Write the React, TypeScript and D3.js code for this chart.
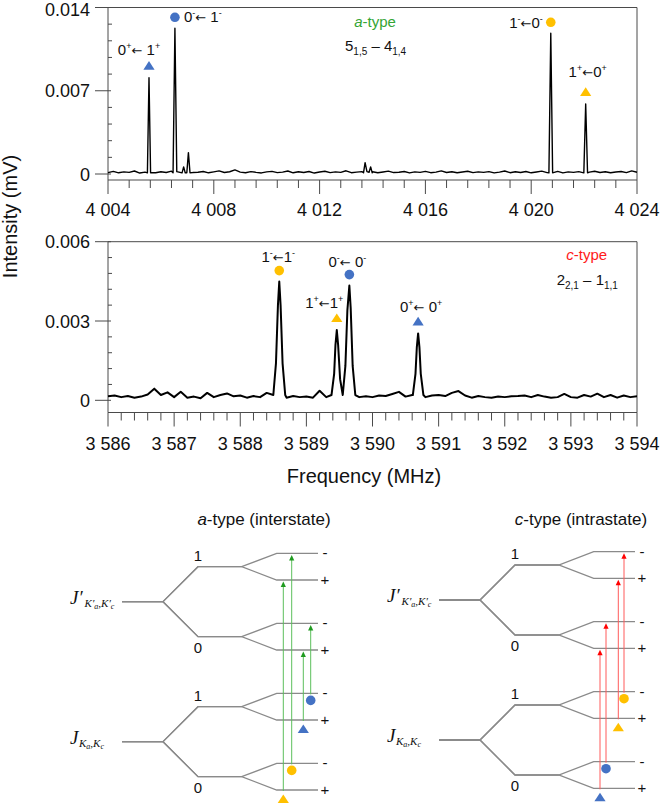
import React from "react";
import * as d3 from "d3";

// ---------------- DATA ----------------
// Top spectrum: a-type 5(1,5) - 4(1,4)
const topXTicks = [4004, 4008, 4012, 4016, 4020, 4024];
const topXMinorStep = 0.8;
const topYTicks = [0, 0.007, 0.014];
const topYMinorStep = 0.0014;
const topNoiseStart = 4004;
const topNoiseStep = 0.2;
const topNoise = [
  0.00012, 0.00022, 0.0001, 0.00018, 0.00014, 0.00025, 0.00008, 0.00016, 0.0002, 0.00011,
  0.00019, 0.00013, 0.00024, 0.00009, 0.00017, 0.00028, 0.00012, 0.00015, 0.00021, 0.0001,
  0.00018, 0.00026, 0.00013, 0.00019, 0.00034, 0.00016, 0.00011, 0.0002, 0.00014, 0.00009,
  0.00018, 0.00022, 0.00012, 0.00016, 0.00025, 0.0001, 0.00019, 0.00013, 0.00021, 0.00008,
  0.00017, 0.00023, 0.00012, 0.00018, 0.00014, 0.00027, 0.00011, 0.00016, 0.0002, 0.00013,
  0.00019, 0.0001, 0.00017, 0.00024, 0.00012, 0.00015, 0.00021, 0.00009, 0.00018, 0.00014,
  0.00022, 0.00011, 0.00016, 0.00026, 0.00013, 0.00019, 0.0001, 0.00017, 0.00023, 0.00012,
  0.00018, 0.00014, 0.0002, 0.00009, 0.00016, 0.00025, 0.00011, 0.00019, 0.00013, 0.00021,
  0.0001, 0.00017, 0.00024, 0.00012, 0.00015, 0.00022, 0.00009, 0.00018, 0.00014, 0.0002,
  0.00011, 0.00016, 0.00023, 0.00013, 0.00019, 0.0001, 0.00017, 0.00021, 0.00012, 0.00026,
  0.00015,
];
const topPeaks: number[][][] = [
  [[4005.49, 0.0001], [4005.55, 0.0081], [4005.61, 0.0001]],
  [[4006.46, 0.0001], [4006.53, 0.01225], [4006.6, 0.0002]],
  [[4006.8, 0.0001], [4006.86, 0.0006], [4006.92, 0.0001]],
  [[4006.98, 0.0001], [4007.04, 0.0018], [4007.1, 0.0001]],
  [[4013.66, 0.0001], [4013.72, 0.00095], [4013.79, 0.0002], [4013.87, 0.00015], [4013.93, 0.0006], [4013.99, 0.0001]],
  [[4020.67, 0.0001], [4020.74, 0.01183], [4020.81, 0.0001]],
  [[4021.99, 0.0001], [4022.06, 0.00589], [4022.13, 0.0001]],
];
const topLabels = [
  { freq: 4005.55, height: 0.0081, upper: "0", lower: "1", sign: "+", color: "blue", shape: "tri" },
  { freq: 4006.53, height: 0.01225, upper: "0", lower: "1", sign: "-", color: "blue", shape: "circle" },
  { freq: 4020.74, height: 0.01183, upper: "1", lower: "0", sign: "-", color: "orange", shape: "circle" },
  { freq: 4022.06, height: 0.00589, upper: "1", lower: "0", sign: "+", color: "orange", shape: "tri" },
];
const topType = { letter: "a", a: "5", aSub: "1,5", b: "4", bSub: "1,4" };

// Bottom spectrum: c-type 2(2,1) - 1(1,1)
const botXTicks = [3586, 3587, 3588, 3589, 3590, 3591, 3592, 3593, 3594];
const botXMinorStep = 0.2;
const botYTicks = [0, 0.003, 0.006];
const botYMinorStep = 0.0006;
const botNoiseStart = 3586;
const botNoiseStep = 0.1;
const botNoise = [
  0.00015, 0.00018, 0.00012, 0.00016, 0.0001, 0.00014, 0.00022, 0.00044, 0.0002, 0.0003,
  0.00012, 0.00032, 0.0001, 0.00014, 0.00008, 0.00028, 0.00012, 0.0002, 0.00026, 0.00015,
  0.00018, 0.0001, 0.00016, 0.00012, 0.00028, 0.0002, 0.00015, 0.0001, 0.00016, 0.00012,
  0.00014, 0.0001, 0.00036, 0.00012, 0.00015, 0.00015, 0.00015, 0.00015, 0.00012, 0.00015,
  0.00012, 0.00018, 0.00016, 0.00024, 0.00032, 0.00014, 0.0002, 0.00015, 0.00012, 0.00018,
  0.0002, 0.00016, 0.00028, 0.00035, 0.00018, 0.0001, 0.00016, 0.00012, 0.0001, 0.00014,
  0.00012, 0.00015, 0.00016, 0.00018, 0.00012, 0.0002, 0.00014, 0.0001, 0.00012, 0.00024,
  0.00012, 0.0001, 0.0002, 0.00014, 0.00025, 0.00012, 0.0002, 0.0001, 0.00018, 0.00012,
  0.00015,
];
const botPeaks: number[][][] = [
  [[3588.5, 0.0002], [3588.54, 0.0014], [3588.57, 0.0036], [3588.59, 0.00449], [3588.61, 0.0036], [3588.64, 0.0014], [3588.68, 0.0002]],
  [[3589.38, 0.0002], [3589.42, 0.001], [3589.44, 0.0021], [3589.46, 0.00266], [3589.48, 0.0021], [3589.51, 0.0008], [3589.55, 0.0002],
   [3589.59, 0.0013], [3589.62, 0.0034], [3589.65, 0.00434], [3589.67, 0.0035], [3589.7, 0.0013], [3589.74, 0.0002]],
  [[3590.61, 0.0002], [3590.65, 0.001], [3590.67, 0.002], [3590.69, 0.00253], [3590.71, 0.002], [3590.73, 0.001], [3590.77, 0.0002]],
];
const botLabels = [
  { freq: 3588.59, height: 0.00449, upper: "1", lower: "1", sign: "-", color: "orange", shape: "circle" },
  { freq: 3589.46, height: 0.00266, upper: "1", lower: "1", sign: "+", color: "orange", shape: "tri" },
  { freq: 3589.65, height: 0.00434, upper: "0", lower: "0", sign: "-", color: "blue", shape: "circle" },
  { freq: 3590.69, height: 0.00253, upper: "0", lower: "0", sign: "+", color: "blue", shape: "tri" },
];
const botType = { letter: "c", a: "2", aSub: "2,1", b: "1", bSub: "1,1" };

// Energy level diagrams
const jLevels = ["1", "0"];
const parities = ["-", "+"];
const aTransitions = [
  { lowerJ: "0", lowerP: "+", upperJ: "1", upperP: "+", color: "orange", shape: "tri" },
  { lowerJ: "0", lowerP: "-", upperJ: "1", upperP: "-", color: "orange", shape: "circle" },
  { lowerJ: "1", lowerP: "+", upperJ: "0", upperP: "+", color: "blue", shape: "tri" },
  { lowerJ: "1", lowerP: "-", upperJ: "0", upperP: "-", color: "blue", shape: "circle" },
];
const cTransitions = [
  { lowerJ: "0", lowerP: "+", upperJ: "0", upperP: "+", color: "blue", shape: "tri" },
  { lowerJ: "0", lowerP: "-", upperJ: "0", upperP: "-", color: "blue", shape: "circle" },
  { lowerJ: "1", lowerP: "+", upperJ: "1", upperP: "+", color: "orange", shape: "tri" },
  { lowerJ: "1", lowerP: "-", upperJ: "1", upperP: "-", color: "orange", shape: "circle" },
];

// ---------------- STYLE / LAYOUT ----------------
const FONT = "'Liberation Sans', Arial, Helvetica, sans-serif";
const SERIF = "'Liberation Serif', 'Times New Roman', serif";
const COLORS: Record<string, string> = { blue: "#4472C4", orange: "#FFC000" };
const GREEN = "#35a535";
const RED = "#ff1a1a";
const AXIS = "#4a4a4a";
const PL = 108;
const PR = 637;

const fmtX = d3.formatLocale({ decimal: ".", thousands: " ", grouping: [3], currency: ["", ""] }).format(",");
const fmtY = (v: number) => (v === 0 ? "0" : d3.format(".3f")(v));

function buildTrace(noise: number[], start: number, step: number, peaks: number[][][]) {
  const pts = noise.map((v, i) => [start + i * step, v]);
  const kept = pts.filter(([f]) => !peaks.some((g) => f >= g[0][0] - 1e-9 && f <= g[g.length - 1][0] + 1e-9));
  return kept.concat(peaks.flat()).sort((a, b) => a[0] - b[0]);
}

function Marker({ cx, cy, shape, color }: any) {
  if (shape === "circle") return <circle cx={cx} cy={cy} r={4.8} fill={color} />;
  return <path d={`M${cx},${cy - 4.6}L${cx + 5.6},${cy + 4}L${cx - 5.6},${cy + 4}Z`} fill={color} />;
}

function TransLabel({ x, y, anchor, upper, lower, sign, gap }: any) {
  return (
    <text x={x} y={y} textAnchor={anchor} fontSize={15} fontFamily={FONT} fill="#111">
      {upper}
      <tspan fontSize={9} dy={-6}>{sign}</tspan>
      <tspan dy={6} fontFamily="'DejaVu Sans', sans-serif" fontSize={13}>{"\u2190"}</tspan>
      <tspan>{gap ? " " : ""}{lower}</tspan>
      <tspan fontSize={9} dy={-6}>{sign}</tspan>
    </text>
  );
}

function TypeLabel({ cx, y, qx, qy, info, color }: any) {
  return (
    <g fontFamily={FONT}>
      <text x={cx} y={y} textAnchor="middle" fontSize={15} fill={color}>
        <tspan fontStyle="italic">{info.letter}</tspan>-type
      </text>
      <text x={qx} y={qy} fontSize={15} fill="#111">
        {info.a}
        <tspan fontSize={10} dy={4}>{info.aSub}</tspan>
        <tspan dy={-4}>{" \u2013 "}{info.b}</tspan>
        <tspan fontSize={10} dy={4}>{info.bSub}</tspan>
      </text>
    </g>
  );
}

function Spectrum(p: any) {
  const x = d3.scaleLinear().domain([p.xTicks[0], p.xTicks[p.xTicks.length - 1]]).range([PL, PR]);
  const y = d3.scaleLinear().domain([0, p.yTicks[p.yTicks.length - 1]]).range([p.yZero, p.yTop]);
  const trace = buildTrace(p.noise, p.noiseStart, p.noiseStep, p.peaks);
  const line = d3.line<number[]>().x((d) => x(d[0])).y((d) => y(d[1]));
  const x0 = x.domain()[0], x1 = x.domain()[1];
  const xMinor = d3.range(x0, x1 + 1e-6, p.xMinorStep).filter((v) => !p.xTicks.some((m: number) => Math.abs(m - v) < 1e-6));
  const yMinor = d3.range(0, y.domain()[1] + 1e-9, p.yMinorStep).filter((v) => !p.yTicks.some((m: number) => Math.abs(m - v) < 1e-9));
  return (
    <g>
      {/* frame */}
      <path d={`M${PL},${p.axisY}V${p.yTop}H${PR}V${p.axisY}Z`} fill="none" stroke={AXIS} strokeWidth={1} />
      {/* x ticks */}
      {p.xTicks.map((t: number) => (
        <g key={"xt" + t}>
          <line x1={x(t)} x2={x(t)} y1={p.axisY} y2={p.axisY + 14} stroke={AXIS} strokeWidth={1} />
          <text x={x(t)} y={p.labelY} textAnchor="middle" fontSize={18} fontFamily={FONT} fill="#111">
            {fmtX(t)}
          </text>
        </g>
      ))}
      {xMinor.map((t) => (
        <line key={"xm" + t} x1={x(t)} x2={x(t)} y1={p.axisY} y2={p.axisY + 8} stroke={AXIS} strokeWidth={1} />
      ))}
      {/* y ticks */}
      {p.yTicks.map((t: number) => (
        <g key={"yt" + t}>
          <line x1={PL - 13} x2={PL + 3} y1={y(t)} y2={y(t)} stroke={AXIS} strokeWidth={1} />
          <text x={PL - 18} y={Math.max(y(t) + 6.5, 15.5)} textAnchor="end" fontSize={18} fontFamily={FONT} fill="#111">
            {fmtY(t)}
          </text>
        </g>
      ))}
      {yMinor.map((t) => (
        <line key={"ym" + t} x1={PL} x2={PL + 4} y1={y(t)} y2={y(t)} stroke={AXIS} strokeWidth={1} />
      ))}
      {/* trace */}
      <path d={line(trace) || ""} fill="none" stroke="#000" strokeWidth={p.lineWidth} strokeLinejoin="round" />
      {/* annotations */}
      {p.labels.map((l: any, i: number) => {
        const lay = p.layout[i];
        const mx = x(l.freq);
        const my = y(l.height) - (l.shape === "circle" ? 11 : 12);
        return (
          <g key={"lab" + i}>
            <Marker cx={mx} cy={my} shape={l.shape} color={COLORS[l.color]} />
            <TransLabel x={mx + lay.dx} y={my + lay.dy} anchor={lay.anchor} upper={l.upper} lower={l.lower} sign={l.sign} gap={lay.gap} />
          </g>
        );
      })}
      <TypeLabel {...p.typePos} info={p.typeInfo} color={p.typeColor} />
    </g>
  );
}

// Level diagram geometry
const LX = { s0: 122, s1: 163, a0: 198, a1: 241.7, b0: 276.7, b1: 318 };
const JOFF = 35;
const POFF = 13.3;
function levelY(cy: number, j: string, p: string) {
  return cy + (j === "1" ? -JOFF : JOFF) + (p === "-" ? -POFF : POFF);
}

function Diagram({ ox, oy, title, transitions, arrowXs, lineColor, headColor }: any) {
  const manifolds = [
    { key: "upper", cy: 601.7 + oy, prime: true },
    { key: "lower", cy: 741.7 + oy, prime: false },
  ];
  const X = (v: number) => v + ox;
  const up = manifolds[0].cy, lo = manifolds[1].cy;
  return (
    <g>
      <text x={X(264)} y={525} textAnchor="middle" fontSize={17} fontFamily={FONT} fill="#111">
        <tspan fontStyle="italic">{title[0]}</tspan>
        {title[1]}
      </text>
      {manifolds.map((m) => (
        <g key={m.key}>
          {jLevels.map((j) =>
            parities.map((pp) => {
              const sy = m.cy + (j === "1" ? -JOFF : JOFF);
              const ly = levelY(m.cy, j, pp);
              return (
                <path
                  key={j + pp}
                  d={`M${X(LX.s0)},${m.cy}L${X(LX.s1)},${m.cy}L${X(LX.a0)},${sy}L${X(LX.a1)},${sy}L${X(LX.b0)},${ly}L${X(LX.b1)},${ly}`}
                  fill="none"
                  stroke="#8a8a8a"
                  strokeWidth={1.3}
                />
              );
            })
          )}
          {jLevels.map((j) => {
            const sy = m.cy + (j === "1" ? -JOFF : JOFF);
            return (
              <text key={"jl" + j} x={X(LX.a0)} y={j === "1" ? sy - 6 : sy + 16} textAnchor="middle" fontSize={15} fontFamily={FONT} fill="#111">
                {j}
              </text>
            );
          })}
          {jLevels.map((j) =>
            parities.map((pp) => (
              <text key={"pl" + j + pp} x={X(LX.b1 + 7)} y={levelY(m.cy, j, pp) + 5} textAnchor="middle" fontSize={15} fontFamily={FONT} fill="#111">
                {pp}
              </text>
            ))
          )}
          <text x={X(70)} y={m.cy + 2} fontFamily={SERIF} fontStyle="italic" fill="#111" fontSize={19}>
            {m.prime ? "J\u2032" : "J"}
            <tspan fontSize={11} dy={3} dx={m.prime ? 2 : 0.5}>{m.prime ? "K\u2032" : "K"}</tspan>
            <tspan fontSize={8} dy={2}>a</tspan>
            <tspan fontSize={11} dy={-2}>{m.prime ? ",K\u2032" : ",K"}</tspan>
            <tspan fontSize={8} dy={2}>c</tspan>
          </text>
        </g>
      ))}
      {transitions.map((t: any, i: number) => {
        const ax = X(arrowXs[i]);
        const y0 = levelY(lo, t.lowerJ, t.lowerP);
        const y1 = levelY(up, t.upperJ, t.upperP);
        const tip = y1 + 1.5;
        return (
          <g key={"tr" + i}>
            <line x1={ax} x2={ax} y1={y0 + 1} y2={tip + 5} stroke={lineColor} strokeWidth={1} />
            <path d={`M${ax},${tip}L${ax + 2.6},${tip + 5.5}L${ax - 2.6},${tip + 5.5}Z`} fill={headColor} />
            <Marker cx={ax} cy={y0 + (t.shape === "circle" ? 7 : 9)} shape={t.shape} color={COLORS[t.color]} />
          </g>
        );
      })}
    </g>
  );
}

export default function App() {
  return (
    <svg width={661} height={804} style={{ position: "absolute", left: 0, top: 0, background: "#fff" }}>
      <rect width={661} height={804} fill="#fff" />
      <Spectrum
        xTicks={topXTicks}
        xMinorStep={topXMinorStep}
        yTicks={topYTicks}
        yMinorStep={topYMinorStep}
        noise={topNoise}
        noiseStart={topNoiseStart}
        noiseStep={topNoiseStep}
        peaks={topPeaks}
        yTop={7.5}
        yZero={174}
        axisY={180}
        labelY={215.5}
        lineWidth={1.4}
        labels={topLabels}
        layout={[
          { dx: -10, dy: -11, anchor: "middle", gap: true },
          { dx: 9, dy: 5, anchor: "start", gap: true },
          { dx: -8, dy: 5.3, anchor: "end", gap: false },
          { dx: 2, dy: -15, anchor: "middle", gap: false },
        ]}
        typePos={{ cx: 375, y: 27, qx: 345, qy: 50.5 }}
        typeInfo={topType}
        typeColor={GREEN}
      />
      <Spectrum
        xTicks={botXTicks}
        xMinorStep={botXMinorStep}
        yTicks={botYTicks}
        yMinorStep={botYMinorStep}
        noise={botNoise}
        noiseStart={botNoiseStart}
        noiseStep={botNoiseStep}
        peaks={botPeaks}
        yTop={241.7}
        yZero={400.3}
        axisY={412.5}
        labelY={450}
        lineWidth={2}
        labels={botLabels}
        layout={[
          { dx: -1, dy: -9, anchor: "middle", gap: false },
          { dx: -12.5, dy: -10, anchor: "middle", gap: false },
          { dx: -2, dy: -7.5, anchor: "middle", gap: true },
          { dx: 3, dy: -9.5, anchor: "middle", gap: true },
        ]}
        typePos={{ cx: 586.7, y: 260, qx: 556.7, qy: 285 }}
        typeInfo={botType}
        typeColor={RED}
      />
      <text transform="translate(17,216.5) rotate(-90)" textAnchor="middle" fontSize={20} fontFamily={FONT} fill="#111">
        Intensity (mV)
      </text>
      <text x={364} y={483} textAnchor="middle" fontSize={20} fontFamily={FONT} fill="#111">
        Frequency (MHz)
      </text>
      <Diagram ox={0} oy={0} title={["a", "-type (interstate)"]} transitions={aTransitions} arrowXs={[283.3, 291.7, 303.3, 310.7]} lineColor="#5cbf5c" headColor="#1f9a1f" />
      <Diagram ox={317} oy={-1.7} title={["c", "-type (intrastate)"]} transitions={cTransitions} arrowXs={[283, 289, 301.3, 307]} lineColor="#ff5a5a" headColor="#ff0000" />
    </svg>
  );
}
